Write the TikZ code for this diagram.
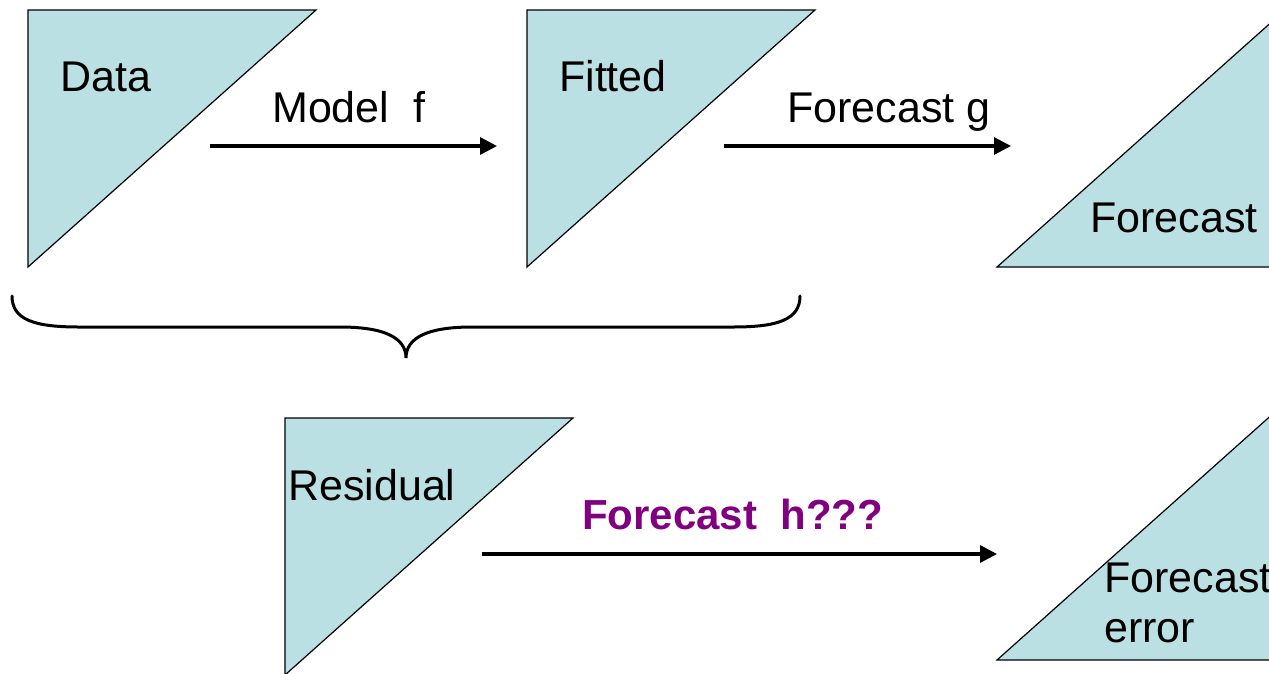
\documentclass[tikz,border=0pt]{standalone}
\usepackage{fontspec}
\setmainfont{Liberation Sans}
\usetikzlibrary{arrows.meta}
\definecolor{paleteal}{HTML}{BBE0E3}
\definecolor{plum}{HTML}{800080}

\begin{document}
\begin{tikzpicture}[
  x=1pt,y=-1pt,
  every node/.style={font=\fontsize{43}{50}\selectfont,inner sep=0pt,anchor=base west},
  wedge/.style={draw=black,fill=paleteal,line width=1.2pt},
  arrow/.style={-{Triangle[length=17pt,width=17pt]},line width=3.3pt},
  brace/.style={draw,line width=3pt,line cap=round}
]
\clip (0,0) rectangle (1269,673);
% triangles
\coordinate (data) at (28,10);
\coordinate (fitted) at (527,10);
\coordinate (fcst) at (997,267);
\coordinate (resid) at (285,418);
\coordinate (ferr) at (997,660);
\filldraw[wedge] (data) -- ++(288,0) -- ++(-288,257) -- cycle;
\filldraw[wedge] (fitted) -- ++(288,0) -- ++(-288,257) -- cycle;
\filldraw[wedge] (fcst) -- ++(288,-257) -- ++(0,257) -- cycle;
\filldraw[wedge] (resid) -- ++(288,0) -- ++(-288,257) -- cycle;
\filldraw[wedge] (ferr) -- ++(288,-257) -- ++(0,257) -- cycle;
% labels
\node (datatxt) at (60,91) {Data};
\node (fittedtxt) at (559,91) {Fitted};
\node (fcsttxt) at (1090,232) {Forecast};
\node (residtxt) at (288,500) {Residual};
\node[align=left] (ferrtxt) at (1104,642) {Forecast\\error};
% arrows
\coordinate (m0) at (210,146);
\coordinate (m1) at (497,146);
\coordinate (g0) at (724,146);
\coordinate (g1) at (1011,146);
\coordinate (h0) at (482,554);
\coordinate (h1) at (997,554);
\draw[arrow] (m0) -- (m1);
\draw[arrow] (g0) -- (g1);
\draw[arrow] (h0) -- (h1);
\node (modeltxt) at (272,122) {Model\ \ f};
\node (gtxt) at (787,122) {Forecast g};
\node[text=plum,font=\fontsize{42}{50}\selectfont\bfseries] (htxt) at (582,529) {Forecast\ \ h???};
% brace under the top row
\coordinate (bl) at (12,296);
\coordinate (br) at (800,296);
\coordinate (bt) at (406,358);
\draw[brace] (bl) .. controls (12,320) and (35,327) .. (79,327) -- (340,327)
  .. controls (385,327) and (406,338) .. (bt)
  .. controls (406,338) and (427,327) .. (472,327) -- (733,327)
  .. controls (777,327) and (800,320) .. (br);
\end{tikzpicture}
\end{document}
